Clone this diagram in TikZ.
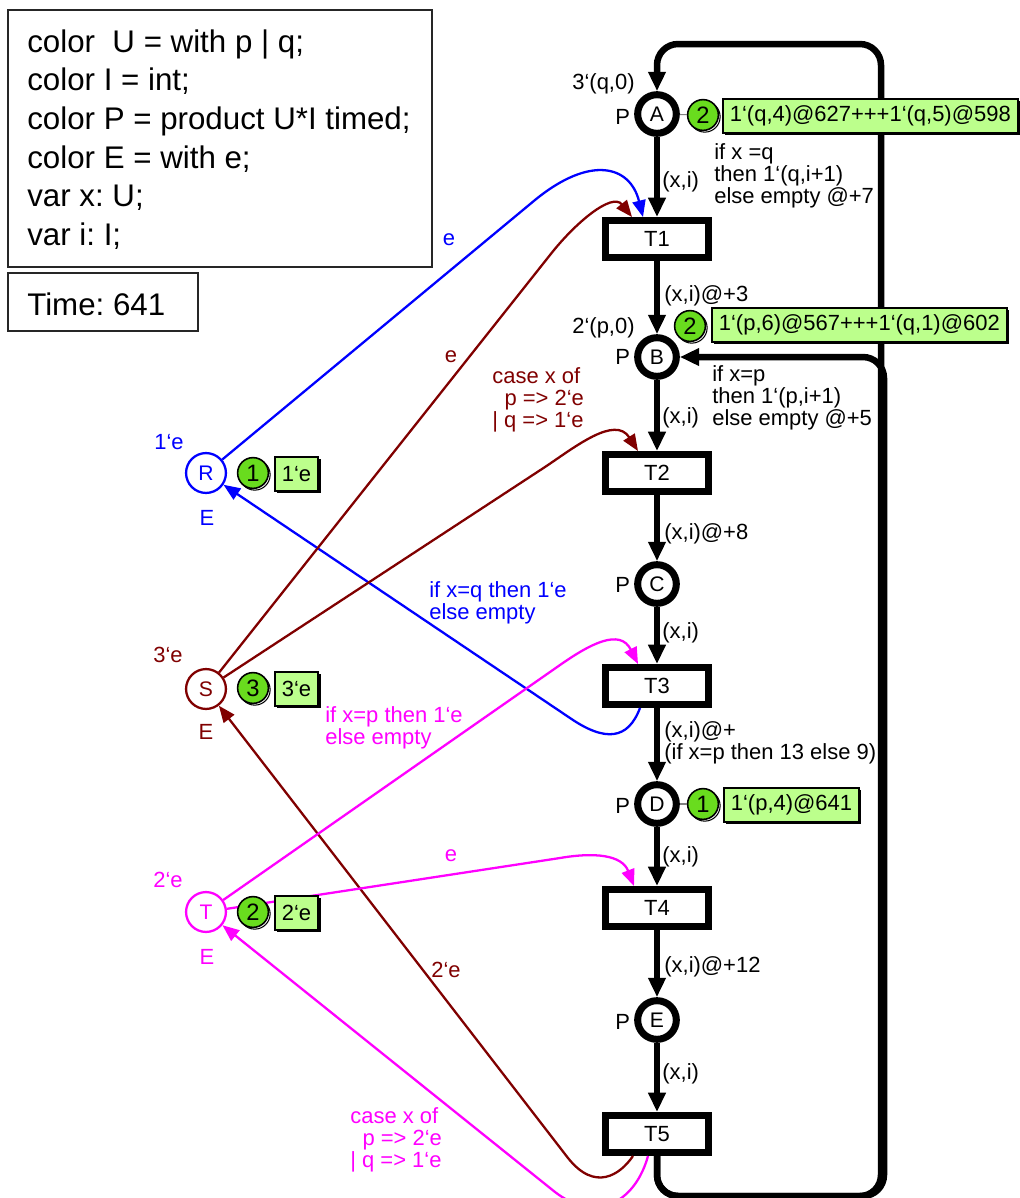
\documentclass[tikz,border=0pt]{standalone}
\usepackage{fontspec}
\setmainfont{Liberation Sans}
\usetikzlibrary{arrows.meta,calc}
\frenchspacing

\definecolor{arcblue}{RGB}{0,0,255}
\definecolor{arcbrown}{RGB}{128,0,0}
\definecolor{arcmagenta}{RGB}{255,0,255}
\definecolor{tokgreen}{RGB}{105,220,30}
\definecolor{markfill}{RGB}{188,255,140}

\tikzset{
  placeblk/.style={circle, draw=black, line width=4pt, fill=white, minimum size=22pt,
    inner sep=0pt, font=\fontsize{12}{12}\selectfont},
  placecol/.style={circle, draw=#1, text=#1, line width=1.3pt, fill=white, minimum size=22.7pt,
    inner sep=0pt, font=\fontsize{12}{12}\selectfont},
  transbox/.style={rectangle, draw=black, line width=4pt, fill=white, minimum width=58.4pt,
    minimum height=21pt, inner sep=0pt, font=\fontsize{12.5}{12.5}\selectfont},
  flowarc/.style={line width=3.7pt, -{Triangle[length=11pt,width=9.5pt]}},
  bigloop/.style={line width=3.7pt, rounded corners=12pt, -{Triangle[length=11pt,width=9.5pt]}},
  colarc/.style={draw=#1, line width=1.3pt, -{Triangle[length=9.5pt,width=7.5pt]}},
  lbl/.style={font=\fontsize{12.5}{12.5}\selectfont, inner sep=0pt},
  decl/.style={font=\fontsize{17.8}{22}\selectfont, inner sep=0pt, anchor=base west},
  tokmark/.style={circle, draw=black, line width=0.9pt, fill=tokgreen, minimum size=17.5pt,
    inner sep=0pt, font=\fontsize{13.5}{13.5}\selectfont,
    preaction={draw=black, fill=white, line width=0.6pt, transform canvas={xshift=1pt,yshift=-1pt}}},
  tokbox/.style={rectangle, draw=black, line width=1pt, fill=markfill, minimum height=19.5pt,
    inner xsep=4pt, inner ysep=0pt, anchor=west, font=\fontsize{12.5}{12.5}\selectfont,
    preaction={fill=black, transform canvas={xshift=1.3pt,yshift=-1.3pt}}},
}

\begin{document}
\begin{tikzpicture}[x=0.02cm, y=-0.02cm]
\useasboundingbox (0,0) rectangle (1020,1198);

% declarations and clock
\draw[line width=0.9pt, black!85] (8,10) rectangle (432,267);
\node[decl] (d1) at (27,52)  {color~~U = with p | q;};
\node[decl] (d2) at (27,90.6) {color I = int;};
\node[decl] (d3) at (27,129) {color P = product U*I timed;};
\node[decl] (d4) at (27,168) {color E = with e;};
\node[decl] (d5) at (27,206) {var x: U;};
\node[decl] (d6) at (27,245) {var i: I;};
\draw[line width=0.9pt, black!85] (8,273) rectangle (198,331);
\node[decl] (clock) at (27,315) {Time: 641};

% places of the main cycle
\node[placeblk] (A) at (657,114) {A};
\node[placeblk] (B) at (657,357) {B};
\node[placeblk] (C) at (657,584) {C};
\node[placeblk] (D) at (657,804) {D};
\node[placeblk] (E) at (657,1020) {E};

% transitions
\node[transbox] (T1) at (657,239) {T1};
\node[transbox] (T2) at (657,473) {T2};
\node[transbox] (T3) at (657,686) {T3};
\node[transbox] (T4) at (657,908) {T4};
\node[transbox] (T5) at (657,1134) {T5};

% resource places
\node[placecol=arcblue] (R) at (206,473) {R};
\node[placecol=arcbrown] (S) at (206,689) {S};
\node[placecol=arcmagenta] (T) at (206,912) {T};

% return loops from T5
\draw[bigloop] (T5.south) -- (657,1196) -- (881,1196) -- (881,44) -- (657,44) -- (A.north);
\draw[bigloop] (T5.south) -- (657,1196) -- (884,1196) -- (884,357) -- (B.east);

% main flow
\draw[flowarc] (A) -- (T1);
\draw[flowarc] (T1) -- (B);
\draw[flowarc] (B) -- (T2);
\draw[flowarc] (T2) -- (C);
\draw[flowarc] (C) -- (T3);
\draw[flowarc] (T3) -- (D);
\draw[flowarc] (D) -- (T4);
\draw[flowarc] (T4) -- (E);
\draw[flowarc] (E) -- (T5);

% resource arcs
\draw[colarc=arcblue] (R) -- (535,200) .. controls (590,155) and (630,165) .. ($(T1.north)+(-14,0)$);
\draw[colarc=arcblue] ($(T3.south)+(-17,0)$) .. controls (628,740) and (605,742) .. (570,718) -- (R);
\draw[colarc=arcbrown] (S) -- (550,255) .. controls (575,223) and (612,192) .. ($(T1.north)+(-25,0)$);
\draw[colarc=arcbrown] (S) -- (545,467) .. controls (575,447) and (615,415) .. ($(T2.north)+(-19,0)$);
\draw[colarc=arcbrown] ($(T5.south)+(-24,0)$) .. controls (620,1175) and (595,1192) .. (568,1158) -- (S);
\draw[colarc=arcmagenta] (T) -- (560,665) .. controls (590,644) and (620,628) .. ($(T3.north)+(-19,0)$);
\draw[colarc=arcmagenta] (T) -- (560,858) .. controls (595,852) and (622,855) .. ($(T4.north)+(-23,0)$);
\draw[colarc=arcmagenta] ($(T5.south)+(-9,0)$) .. controls (636,1200) and (598,1225) .. (555,1192) -- (T);

% current markings
\node[tokmark] (kA) at (703,115) {2};
\draw[gray, line width=0.6pt] (A) -- (kA);
\node[tokbox] (bA) at (722,116) {1‘(q,4)@627+++1‘(q,5)@598};
\node[tokmark] (kB) at (690,326) {2};
\node[tokbox] (bB) at (711,325) {1‘(p,6)@567+++1‘(q,1)@602};
\node[tokmark] (kD) at (703,804) {1};
\draw[gray, line width=0.6pt] (D) -- (kD);
\node[tokbox] (bD) at (723,805) {1‘(p,4)@641};
\node[tokmark] (kR) at (253,473) {1};
\node[tokbox] (bR) at (274,474) {1‘e};
\node[tokmark] (kS) at (253,688) {3};
\node[tokbox] (bS) at (274,689) {3‘e};
\node[tokmark] (kT) at (253,912) {2};
\node[tokbox] (bT) at (274,913) {2‘e};

% initial markings and colour sets
\node[lbl, anchor=base west] (iA) at (572,89) {3‘(q,0)};
\node[lbl, anchor=base west] (iB) at (572,333) {2‘(p,0)};
\node[lbl, anchor=base west] (pA) at (615,124) {P};
\node[lbl, anchor=base west] (pB) at (615,364) {P};
\node[lbl, anchor=base west] (pC) at (615,592) {P};
\node[lbl, anchor=base west] (pD) at (615,813) {P};
\node[lbl, anchor=base west] (pE) at (615,1029) {P};
\node[lbl, text=arcblue] (iR) at (169,442) {1‘e};
\node[lbl, text=arcblue] (cR) at (207,518) {E};
\node[lbl, text=arcbrown] (iS) at (168,655) {3‘e};
\node[lbl, text=arcbrown] (cS) at (206,732) {E};
\node[lbl, text=arcmagenta] (iT) at (168,880) {2‘e};
\node[lbl, text=arcmagenta] (cT) at (207,957) {E};

% arc inscriptions of the main flow
\node[lbl, anchor=base west] (eA1) at (662,187) {(x,i)};
\node[lbl, anchor=base west] (e1B) at (664,301) {(x,i)@+3};
\node[lbl, anchor=base west] (eB2) at (662,423) {(x,i)};
\node[lbl, anchor=base west] (e2C) at (664,539) {(x,i)@+8};
\node[lbl, anchor=base west] (eC3) at (662,638) {(x,i)};
\node[lbl, anchor=north west, align=left] (e3D) at (664,721) {(x,i)@+\\(if x=p then 13 else 9)};
\node[lbl, anchor=base west] (eD4) at (662,862) {(x,i)};
\node[lbl, anchor=base west] (e4E) at (664,972) {(x,i)@+12};
\node[lbl, anchor=base west] (eE5) at (662,1079) {(x,i)};
\node[lbl, anchor=north west, align=left] (e5A) at (714,143) {if x =q\\then 1‘(q,i+1)\\else empty @+7};
\node[lbl, anchor=north west, align=left] (e5B) at (712,365) {if x=p\\then 1‘(p,i+1)\\else empty @+5};

% arc inscriptions of the resource arcs
\node[lbl, text=arcblue] (eR1) at (449,240) {e};
\node[lbl, text=arcblue, anchor=north west, align=left] (e3R) at (429,581) {if x=q then 1‘e\\else empty};
\node[lbl, text=arcbrown] (eS1) at (451,357) {e};
\node[lbl, text=arcbrown, anchor=north west, align=left] (eS2) at (492,367) {case x of\\\ \ p => 2‘e\\| q => 1‘e};
\node[lbl, text=arcbrown] (e5S) at (446,970) {2‘e};
\node[lbl, text=arcmagenta, anchor=north west, align=left] (eT3) at (325,706) {if x=p then 1‘e\\else empty};
\node[lbl, text=arcmagenta] (eT4) at (451,856) {e};
\node[lbl, text=arcmagenta, anchor=north west, align=left] (e5T) at (350,1107) {case x of\\\ \ p => 2‘e\\| q => 1‘e};
\end{tikzpicture}
\end{document}
